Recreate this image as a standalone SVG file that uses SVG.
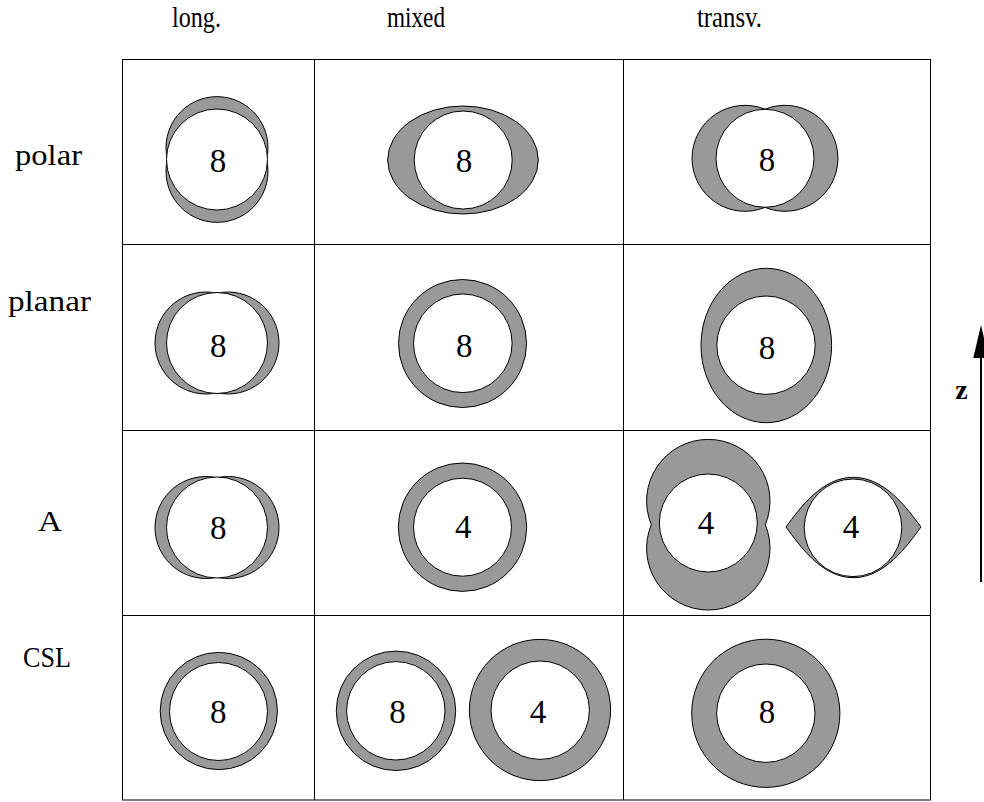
<svg xmlns="http://www.w3.org/2000/svg" width="984" height="802" viewBox="0 0 984 802" font-family="Liberation Serif, serif">
<style>
text{font-family:'Liberation Serif',serif;fill:#000}
.lbl{font-size:30px}
.num{font-size:33px;text-anchor:middle}
.g{fill:#999;stroke:#000;stroke-width:1}
.w{fill:#fff;stroke:#000;stroke-width:1}
.grid{fill:none;stroke:#000;stroke-width:1}
</style>
<rect width="984" height="802" fill="#fff"/>
<g id="grid">
<rect class="grid" x="122.5" y="59.5" width="808" height="740.5"/>
<line class="grid" x1="314.5" y1="59.5" x2="314.5" y2="800"/>
<line class="grid" x1="623.5" y1="59.5" x2="623.5" y2="800"/>
<line class="grid" x1="122.5" y1="244.5" x2="930.5" y2="244.5"/>
<line class="grid" x1="122.5" y1="430.5" x2="930.5" y2="430.5"/>
<line class="grid" x1="122.5" y1="615.5" x2="930.5" y2="615.5"/>
</g>
<g id="headers">
<text class="lbl" x="172" y="27" textLength="49" lengthAdjust="spacingAndGlyphs">long.</text>
<text class="lbl" x="387" y="27" textLength="58" lengthAdjust="spacingAndGlyphs">mixed</text>
<text class="lbl" x="697" y="27" textLength="65" lengthAdjust="spacingAndGlyphs">transv.</text>
</g>
<g id="rowlabels">
<text class="lbl" x="15" y="165" textLength="67" lengthAdjust="spacingAndGlyphs">polar</text>
<text class="lbl" x="8" y="311" textLength="83" lengthAdjust="spacingAndGlyphs">planar</text>
<text class="lbl" x="38" y="531" textLength="24" lengthAdjust="spacingAndGlyphs">A</text>
<text class="lbl" x="23" y="667" textLength="48" lengthAdjust="spacingAndGlyphs">CSL</text>
</g>
<g id="polar-long">
<path class="g" d="M167.4,159.5 A51,51 0 1 1 266.6,159.5 A51,51 0 1 1 167.4,159.5 Z"/>
<circle class="w" cx="217" cy="159.5" r="50.5"/>
<text class="num" x="218" y="171.5">8</text>
</g>
<g id="polar-mixed">
<ellipse class="g" cx="463" cy="160" rx="75.3" ry="54"/>
<circle class="w" cx="463.2" cy="160" r="49"/>
<text class="num" x="464" y="171.5">8</text>
</g>
<g id="polar-transv">
<path class="g" d="M765,109.2 A53,53 0 1 1 765,207.4 A53,53 0 1 1 765,109.2 Z"/>
<circle class="w" cx="765" cy="158.3" r="49"/>
<text class="num" x="767" y="171">8</text>
</g>
<g id="planar-long">
<path class="g" d="M217,293.2 A51,51 0 1 1 217,392.8 A51,51 0 1 1 217,293.2 Z"/>
<circle class="w" cx="217" cy="343" r="50.5"/>
<text class="num" x="218.3" y="356.7">8</text>
</g>
<g id="planar-mixed">
<circle class="g" cx="462.5" cy="343.5" r="64"/>
<circle class="w" cx="462.8" cy="343.3" r="49.3"/>
<text class="num" x="464.3" y="356.7">8</text>
</g>
<g id="planar-transv">
<ellipse class="g" cx="766.3" cy="345.5" rx="65.3" ry="77.2"/>
<circle class="w" cx="766" cy="345.2" r="49.2"/>
<text class="num" x="767" y="359">8</text>
</g>
<g id="A-long">
<path class="g" d="M217,477.7 A51,51 0 1 1 217,577.3 A51,51 0 1 1 217,477.7 Z"/>
<circle class="w" cx="217" cy="527.5" r="50.5"/>
<text class="num" x="218.3" y="539">8</text>
</g>
<g id="A-mixed">
<circle class="g" cx="462.5" cy="527.2" r="64.2"/>
<circle class="w" cx="462.5" cy="527.2" r="49"/>
<text class="num" x="463.3" y="538.3">4</text>
</g>
<g id="A-transv-1">
<path class="g" d="M651.3,524.7 A61.7,61.7 0 1 1 765.3,524.7 A61.7,61.7 0 1 1 651.3,524.7 Z"/>
<circle class="w" cx="708.3" cy="523" r="49"/>
<text class="num" x="706" y="534">4</text>
</g>
<g id="A-transv-2">
<path class="g" d="M786,527 C800,508 822,477.3 853.3,477.3 C884.6,477.3 907,508 921,527 C907,546 884.6,577.7 853.3,577.7 C822,577.7 800,546 786,527 Z"/>
<circle class="w" cx="853" cy="527.8" r="48.8"/>
<text class="num" x="851" y="537.7">4</text>
</g>
<g id="CSL-long">
<circle class="g" cx="218.8" cy="711" r="58.6"/>
<circle class="w" cx="218.5" cy="711.5" r="49"/>
<text class="num" x="218.3" y="723.3">8</text>
</g>
<g id="CSL-mixed-1">
<circle class="g" cx="396" cy="710.8" r="59.7"/>
<circle class="w" cx="395.8" cy="710.8" r="49.2"/>
<text class="num" x="397.5" y="723.3">8</text>
</g>
<g id="CSL-mixed-2">
<circle class="g" cx="540" cy="710" r="70.6"/>
<circle class="w" cx="540.2" cy="710.2" r="49.2"/>
<text class="num" x="538" y="723.3">4</text>
</g>
<g id="CSL-transv">
<circle class="g" cx="765.8" cy="713.3" r="74.1"/>
<circle class="w" cx="765.8" cy="713.2" r="49.2"/>
<text class="num" x="767" y="723.3">8</text>
</g>
<g id="connectors">
<line x1="981" y1="582" x2="981" y2="355" stroke="#000" stroke-width="2"/>
<polygon points="981,325 973.3,358 988.7,358" fill="#000"/>
</g>
<g id="axis-label">
<text x="961.5" y="399" font-size="28" font-weight="bold" text-anchor="middle">z</text>
</g>
</svg>
